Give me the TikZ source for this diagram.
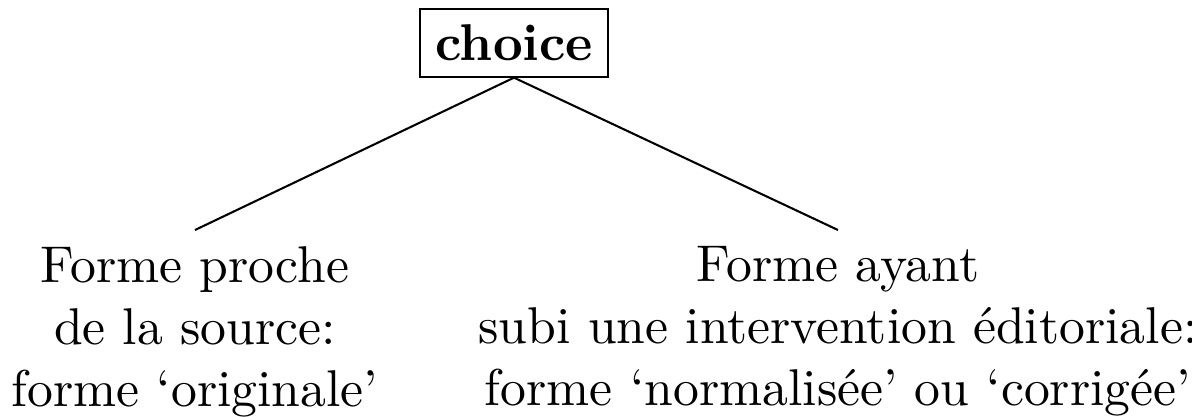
\documentclass[tikz,border=0pt]{standalone}
\begin{document}
\begin{tikzpicture}[x=0.1934pt,y=-0.1934pt,
  rootbox/.style={draw,font=\bfseries,inner sep=3pt},
  leaf/.style={align=center,inner sep=3pt}]
\useasboundingbox (0,0) rectangle (1192,416);
\node[rootbox] (root) at (514,43) {choice};
\node[leaf,anchor=north] (l) at (195,230) {Forme proche\\de la source:\\forme `originale'};
\node[leaf,anchor=north] (r) at (838,230) {Forme ayant\\subi une intervention éditoriale:\\forme `normalisée' ou `corrigée'};
\draw (root.south) -- (l.north);
\draw (root.south) -- (r.north);
\end{tikzpicture}
\end{document}
